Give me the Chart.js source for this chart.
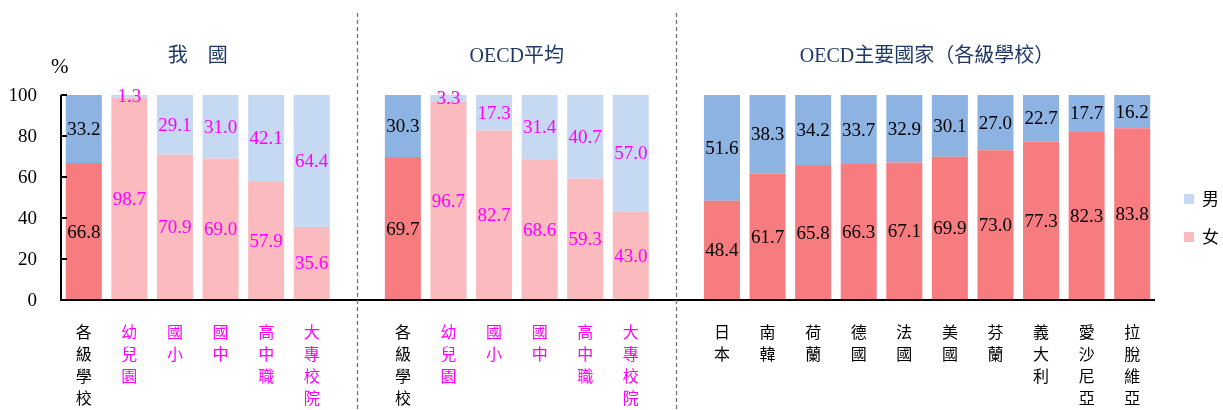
<!DOCTYPE html>
<html>
<head>
<meta charset="utf-8">
<script src="https://cdn.jsdelivr.net/npm/chart.js@4"></script>
<style>
  html, body { margin:0; padding:0; background:#fff; }
  #wrap { width:1223px; height:410px; position:relative; }
</style>
</head>
<body>
<div id="wrap"><canvas id="c" width="1223" height="410"></canvas></div>
<script>
// ---- data (blank slots separate the three groups) ----
const categories = [
  '各級學校','幼兒園','國小','國中','高中職','大專校院', '',
  '各級學校','幼兒園','國小','國中','高中職','大專校院', '',
  '日本','南韓','荷蘭','德國','法國','美國','芬蘭','義大利','愛沙尼亞','拉脫維亞'
];
const female = [66.8, 98.7, 70.9, 69.0, 57.9, 35.6, null,
                69.7, 96.7, 82.7, 68.6, 59.3, 43.0, null,
                48.4, 61.7, 65.8, 66.3, 67.1, 69.9, 73.0, 77.3, 82.3, 83.8];
const male   = [33.2, 1.3, 29.1, 31.0, 42.1, 64.4, null,
                30.3, 3.3, 17.3, 31.4, 40.7, 57.0, null,
                51.6, 38.3, 34.2, 33.7, 32.9, 30.1, 27.0, 22.7, 17.7, 16.2];
// sub-level bars (lighter colours, magenta text)
const isSub  = [0,1,1,1,1,1,0, 0,1,1,1,1,1,0, 0,0,0,0,0,0,0,0,0,0];
const groups = [
  { title:'我　國', from:0, to:5 },
  { title:'OECD平均', from:7, to:12 },
  { title:'OECD主要國家（各級學校）', from:14, to:23 }
];
const separators = [6, 13];
const yTicks = [0, 20, 40, 60, 80, 100];

const C = {
  femaleDark:'#F77C80', femaleLight:'#FBBABD',
  maleDark:'#8DB3E2',   maleLight:'#C6D9F3',
  magenta:'#FF00FF', navy:'#1F3864'
};
const SERIF = '"Liberation Serif", "Noto Sans CJK TC", serif';

const overlay = {
  id:'overlay',
  afterDraw(chart) {
    const { ctx, scales:{ x, y } } = chart;
    ctx.save();

    // value labels
    ctx.textAlign = 'center'; ctx.textBaseline = 'middle';
    ctx.font = '19px ' + SERIF;
    chart.data.datasets.forEach((ds, di) => {
      const meta = chart.getDatasetMeta(di);
      meta.data.forEach((bar, i) => {
        const v = ds.data[i];
        if (v == null) return;
        ctx.fillStyle = isSub[i] ? C.magenta : '#000';
        ctx.fillText(v.toFixed(1), bar.x, (bar.y + bar.base) / 2 + 1);
      });
    });

    // axes
    const top = y.getPixelForValue(100), bot = y.getPixelForValue(0);
    const left = x.left, right = x.right;
    ctx.fillStyle = '#000';
    ctx.fillRect(left - 1, top, 2, bot - top + 1);
    ctx.fillRect(left - 1, bot - 1, right - left + 1, 2);
    yTicks.forEach(t => ctx.fillRect(left, Math.round(y.getPixelForValue(t)) - 1, 6, 2));

    ctx.textAlign = 'right';
    ctx.font = '19px ' + SERIF;
    yTicks.forEach(t => ctx.fillText(String(t), left - 24, y.getPixelForValue(t) + 1));
    ctx.textAlign = 'left'; ctx.font = '21px ' + SERIF;
    ctx.fillText('%', left - 10, 67);

    // vertical category labels
    ctx.textAlign = 'center'; ctx.font = '16px "Noto Sans CJK TC"';
    categories.forEach((lab, i) => {
      ctx.fillStyle = isSub[i] ? C.magenta : '#000';
      [...lab].forEach((ch, k) => ctx.fillText(ch, x.getPixelForValue(i), 332 + k * 22));
    });

    // group titles
    ctx.fillStyle = C.navy; ctx.font = '20px ' + SERIF;
    groups.forEach(g => {
      const cx = (x.getPixelForValue(g.from) + x.getPixelForValue(g.to)) / 2;
      ctx.fillText(g.title, cx, 57);
    });

    // dashed separators
    ctx.strokeStyle = '#777'; ctx.lineWidth = 1.3; ctx.setLineDash([4, 3]);
    separators.forEach(s => {
      const px = Math.round(x.getPixelForValue(s)) + 0.5;
      ctx.beginPath(); ctx.moveTo(px, 13); ctx.lineTo(px, 410); ctx.stroke();
    });
    ctx.setLineDash([]);

    // legend
    const leg = [['男', C.maleLight, 199], ['女', C.femaleLight, 237]];
    ctx.textAlign = 'left'; ctx.font = '17px "Noto Sans CJK TC"';
    leg.forEach(([t, col, cy]) => {
      ctx.fillStyle = col; ctx.fillRect(1184, cy - 5, 10, 10);
      ctx.fillStyle = '#000'; ctx.fillText(t, 1202, cy);
    });
    ctx.restore();
  }
};

new Chart(document.getElementById('c'), {
  type:'bar',
  data:{
    labels: categories,
    datasets:[
      { label:'女', data: female, backgroundColor: female.map((_, i) => isSub[i] ? C.femaleLight : C.femaleDark) },
      { label:'男', data: male,   backgroundColor: male.map((_, i) => isSub[i] ? C.maleLight : C.maleDark) }
    ]
  },
  options:{
    responsive:false, animation:false,
    layout:{ padding:{ left:61, right:68, top:95, bottom:110 } },
    datasets:{ bar:{ barPercentage:0.79, categoryPercentage:1, borderWidth:0 } },
    plugins:{ legend:{ display:false }, tooltip:{ enabled:false } },
    scales:{
      x:{ stacked:true, display:false },
      y:{ stacked:true, display:false, min:0, max:100 }
    }
  },
  plugins:[overlay]
});
</script>
</body>
</html>
